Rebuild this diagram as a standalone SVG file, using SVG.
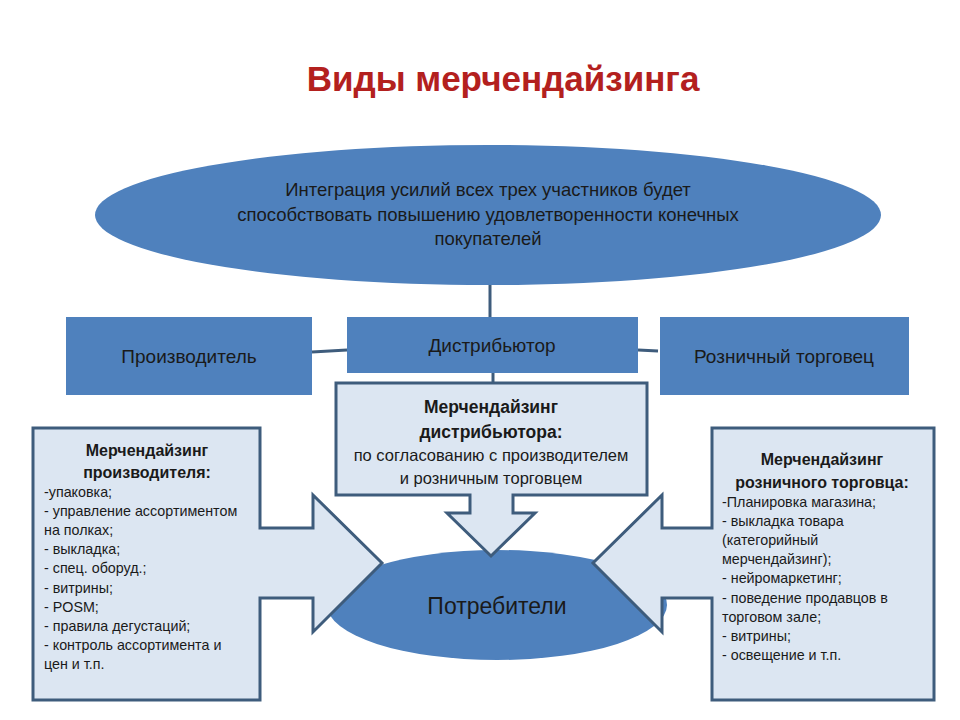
<svg xmlns="http://www.w3.org/2000/svg" width="960" height="720" viewBox="0 0 960 720">
<style>
text{font-family:"Liberation Sans","Open Sans",sans-serif;fill:#1a1a1a}
.blue{fill:#4F81BD}
.call{fill:#DCE6F2;stroke:#3E5C7C;stroke-width:3;stroke-linejoin:miter}
.conn{stroke:#3E5C7C;stroke-width:3;fill:none}
.lab{font-size:19px;text-anchor:middle}
.h{font-size:16px;font-weight:bold;text-anchor:middle}
.li{font-size:14.3px}
</style>
<rect width="960" height="720" fill="#fff"/>
<text x="503" y="91" style="font-size:35px;font-weight:bold;fill:#B3201E" text-anchor="middle">Виды мерчендайзинга</text>
<g id="connectors">
<line class="conn" x1="490" y1="285" x2="490" y2="317"/>
<line class="conn" x1="312" y1="352" x2="347" y2="350"/>
<line class="conn" x1="638" y1="350" x2="658" y2="351"/>
<line class="conn" x1="493" y1="373" x2="493" y2="383"/>
</g>
<g id="goal">
<ellipse cx="488" cy="215" rx="393" ry="70" class="blue"/>
<text x="488" y="196" class="lab" style="font-size:18.5px">Интеграция усилий всех трех участников будет</text>
<text x="488" y="221" class="lab" style="font-size:18.5px">способствовать повышению удовлетворенности конечных</text>
<text x="488" y="245" class="lab" style="font-size:18.5px">покупателей</text>
</g>
<g id="producer"><rect x="66" y="317" width="246" height="78" class="blue"/><text x="189" y="363" class="lab">Производитель</text></g>
<g id="distributor"><rect x="347" y="317" width="291" height="56" class="blue"/><text x="492" y="352" class="lab">Дистрибьютор</text></g>
<g id="retailer"><rect x="660" y="317" width="249" height="78" class="blue"/><text x="784" y="363" class="lab">Розничный торговец</text></g>
<g id="consumers">
<ellipse cx="497" cy="605" rx="170" ry="55" class="blue"/>
<text x="497" y="614" class="lab" style="font-size:23px">Потребители</text>
</g>
<g id="dist-merch">
<path class="call" d="M336,383 H647 V495 H513 V513 H535 L491,556 L447,513 H470 V495 H336 Z"/>
<text x="491" y="413" class="h" style="font-size:17.5px">Мерчендайзинг</text>
<text x="491" y="438" class="h" style="font-size:17.5px">дистрибьютора:</text>
<text x="491" y="461" style="font-size:16.5px" text-anchor="middle">по согласованию с производителем</text>
<text x="491" y="484" style="font-size:16.5px" text-anchor="middle">и розничным торговцем</text>
</g>
<g id="prod-merch">
<path class="call" d="M33,428 H260 V528 H313 V495 L382,563 L313,632 V598 H260 V700 H33 Z"/>
<text x="147" y="456" class="h">Мерчендайзинг</text>
<text x="147" y="478" class="h">производителя:</text>
<text class="li"><tspan x="44" y="497">-упаковка;</tspan><tspan x="44" y="516">- управление ассортиментом</tspan><tspan x="44" y="535">на полках;</tspan><tspan x="44" y="554">- выкладка;</tspan><tspan x="44" y="573">- спец. оборуд.;</tspan><tspan x="44" y="593">- витрины;</tspan><tspan x="44" y="612">- POSM;</tspan><tspan x="44" y="631">- правила дегустаций;</tspan><tspan x="44" y="650">- контроль ассортимента и</tspan><tspan x="44" y="669">цен и т.п.</tspan></text>
</g>
<g id="retail-merch">
<path class="call" d="M934,428 H712 V528 H662 V495 L593,563 L662,632 V598 H712 V700 H934 Z"/>
<text x="822" y="465" class="h">Мерчендайзинг</text>
<text x="822" y="488" class="h">розничного торговца:</text>
<text class="li"><tspan x="722" y="507">-Планировка магазина;</tspan><tspan x="722" y="526">- выкладка товара</tspan><tspan x="722" y="545">(категорийный</tspan><tspan x="722" y="564">мерчендайзинг);</tspan><tspan x="722" y="583">- нейромаркетинг;</tspan><tspan x="722" y="603">- поведение продавцов в</tspan><tspan x="722" y="622">торговом зале;</tspan><tspan x="722" y="641">- витрины;</tspan><tspan x="722" y="660">- освещение и т.п.</tspan></text>
</g>
</svg>
